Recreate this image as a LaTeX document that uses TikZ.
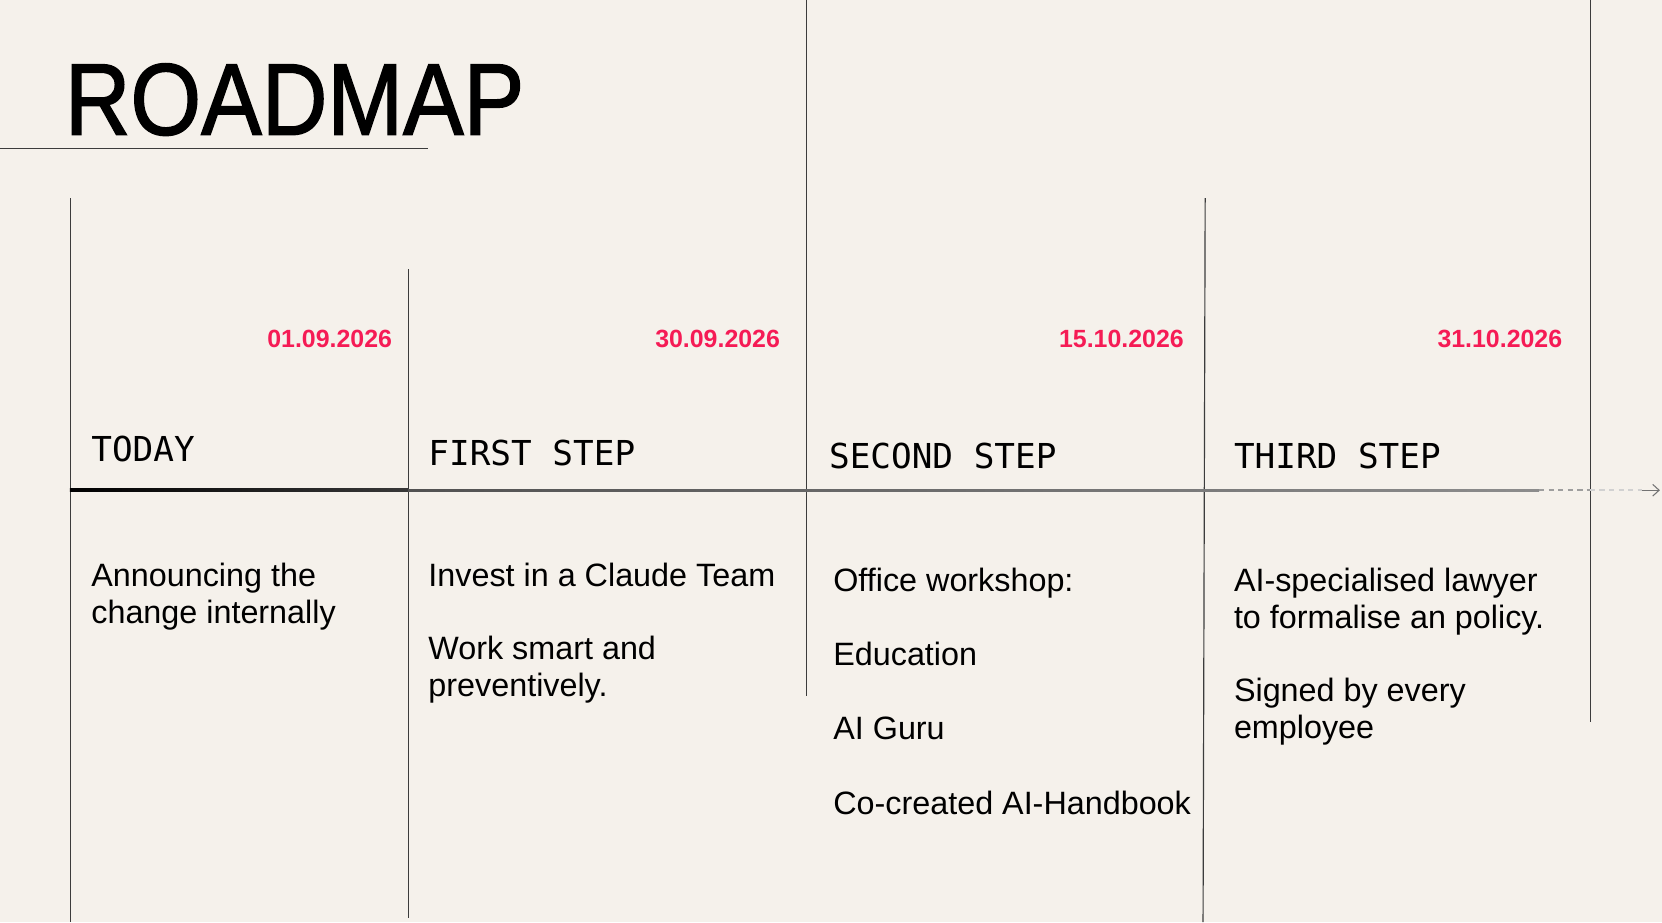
\documentclass[tikz,border=0pt]{standalone}
\usepackage{fontspec}
\setmainfont{Liberation Sans}
\newfontfamily\headmono{DejaVu Sans Mono}
\newfontfamily\titlefont[FakeBold=1.6]{Liberation Sans}
\usetikzlibrary{arrows.meta}
\definecolor{bg}{HTML}{F5F1EB}
\definecolor{datered}{HTML}{F51B55}
\definecolor{rulegray}{HTML}{3C3C3C}
\begin{document}
\begin{tikzpicture}[x=1pt,y=-1pt,
  vline/.style={draw=rulegray, line width=1.1pt},
  datelbl/.style={anchor=base east, inner sep=0pt, text=datered, font=\bfseries\fontsize{23.5}{23.5}\selectfont},
  headlbl/.style={anchor=base west, inner sep=0pt, font=\headmono\fontsize{32.4}{32.4}\selectfont},
  bodylbl/.style={anchor=base west, inner sep=0pt, font=\fontsize{30.5}{35}\selectfont},
]
% background / bounding box
\fill[bg] (0,0) rectangle (1568,870);
\useasboundingbox (0,0) rectangle (1568,870);

% title
\node[anchor=base west, inner sep=0pt] (title) at (61,127)
  {\titlefont\fontsize{96}{96}\selectfont\scalebox{0.893}[1]{ROADMAP}};
\coordinate (ul0) at (0,140);
\coordinate (ul1) at (404,140);
\draw[rulegray, line width=1.2pt] (ul0) -- (ul1);

% vertical lines
\coordinate (v1a) at (66.5,187);  \coordinate (v1b) at (66.5,870);
\coordinate (v2a) at (385.5,254); \coordinate (v2b) at (385.5,866);
\coordinate (v3a) at (760.5,0);   \coordinate (v3b) at (760.5,657);
\coordinate (v4a) at (1137,187);  \coordinate (v4b) at (1135,870);
\coordinate (v5a) at (1500.5,0);  \coordinate (v5b) at (1500.5,681);
\draw[vline] (v1a) -- (v1b);
\draw[vline] (v2a) -- (v2b);
\draw[vline] (v3a) -- (v3b);
\draw[vline] (v4a) -- (v4b);
\draw[vline] (v5a) -- (v5b);

% timeline
\coordinate (t0) at (66,461.3);
\coordinate (t1) at (385,463.7);
\coordinate (t2) at (385,461.6);
\coordinate (t3) at (1452,463.4);
\shade[left color=black, right color=black!78] (t0) rectangle (t1);
\shade[left color=black!68, right color=black!45] (t2) rectangle (t3);
\coordinate (d0) at (1452,462.5);
\coordinate (d1) at (1500,462.5);
\coordinate (d2) at (1549,462.5);
\coordinate (a1) at (1566,462.5);
\draw[black!38, line width=1.8pt, dash pattern=on 5pt off 4pt] (d0) -- (d1);
\draw[black!18, line width=1.8pt, dash pattern=on 5pt off 4pt] (d1) -- (d2);
\draw[black!55, line width=1pt, -{Straight Barb[length=6pt,width=11pt]}] (d2) -- (a1);

% dates
\node[datelbl] (date1) at (370,328) {01.09.2026};
\node[datelbl] (date2) at (736,328) {30.09.2026};
\node[datelbl] (date3) at (1117,328) {15.10.2026};
\node[datelbl] (date4) at (1474,328) {31.10.2026};

% headings
\node[headlbl] (h1) at (86,435) {TODAY};
\node[headlbl] (h2) at (404,439) {FIRST STEP};
\node[headlbl] (h3) at (782,442) {SECOND STEP};
\node[headlbl] (h4) at (1164,442) {THIRD STEP};

% column 1
\node[bodylbl] (c1a) at (86,553) {Announcing the};
\node[bodylbl] (c1b) at (86,588) {change internally};
% column 2
\node[bodylbl] (c2a) at (404,553) {Invest in a Claude Team};
\node[bodylbl] (c2b) at (404,622) {Work smart and};
\node[bodylbl] (c2c) at (404,657) {preventively.};
% column 3
\node[bodylbl] (c3a) at (786,558) {Office workshop:};
\node[bodylbl] (c3b) at (786,628) {Education};
\node[bodylbl] (c3c) at (786,698) {AI Guru};
\node[bodylbl] (c3d) at (786,768) {Co-created AI-Handbook};
% column 4
\node[bodylbl] (c4a) at (1164,558) {AI-specialised lawyer};
\node[bodylbl] (c4b) at (1164,593) {to formalise an policy.};
\node[bodylbl] (c4c) at (1164,662) {Signed by every};
\node[bodylbl] (c4d) at (1164,697) {employee};
\end{tikzpicture}
\end{document}
